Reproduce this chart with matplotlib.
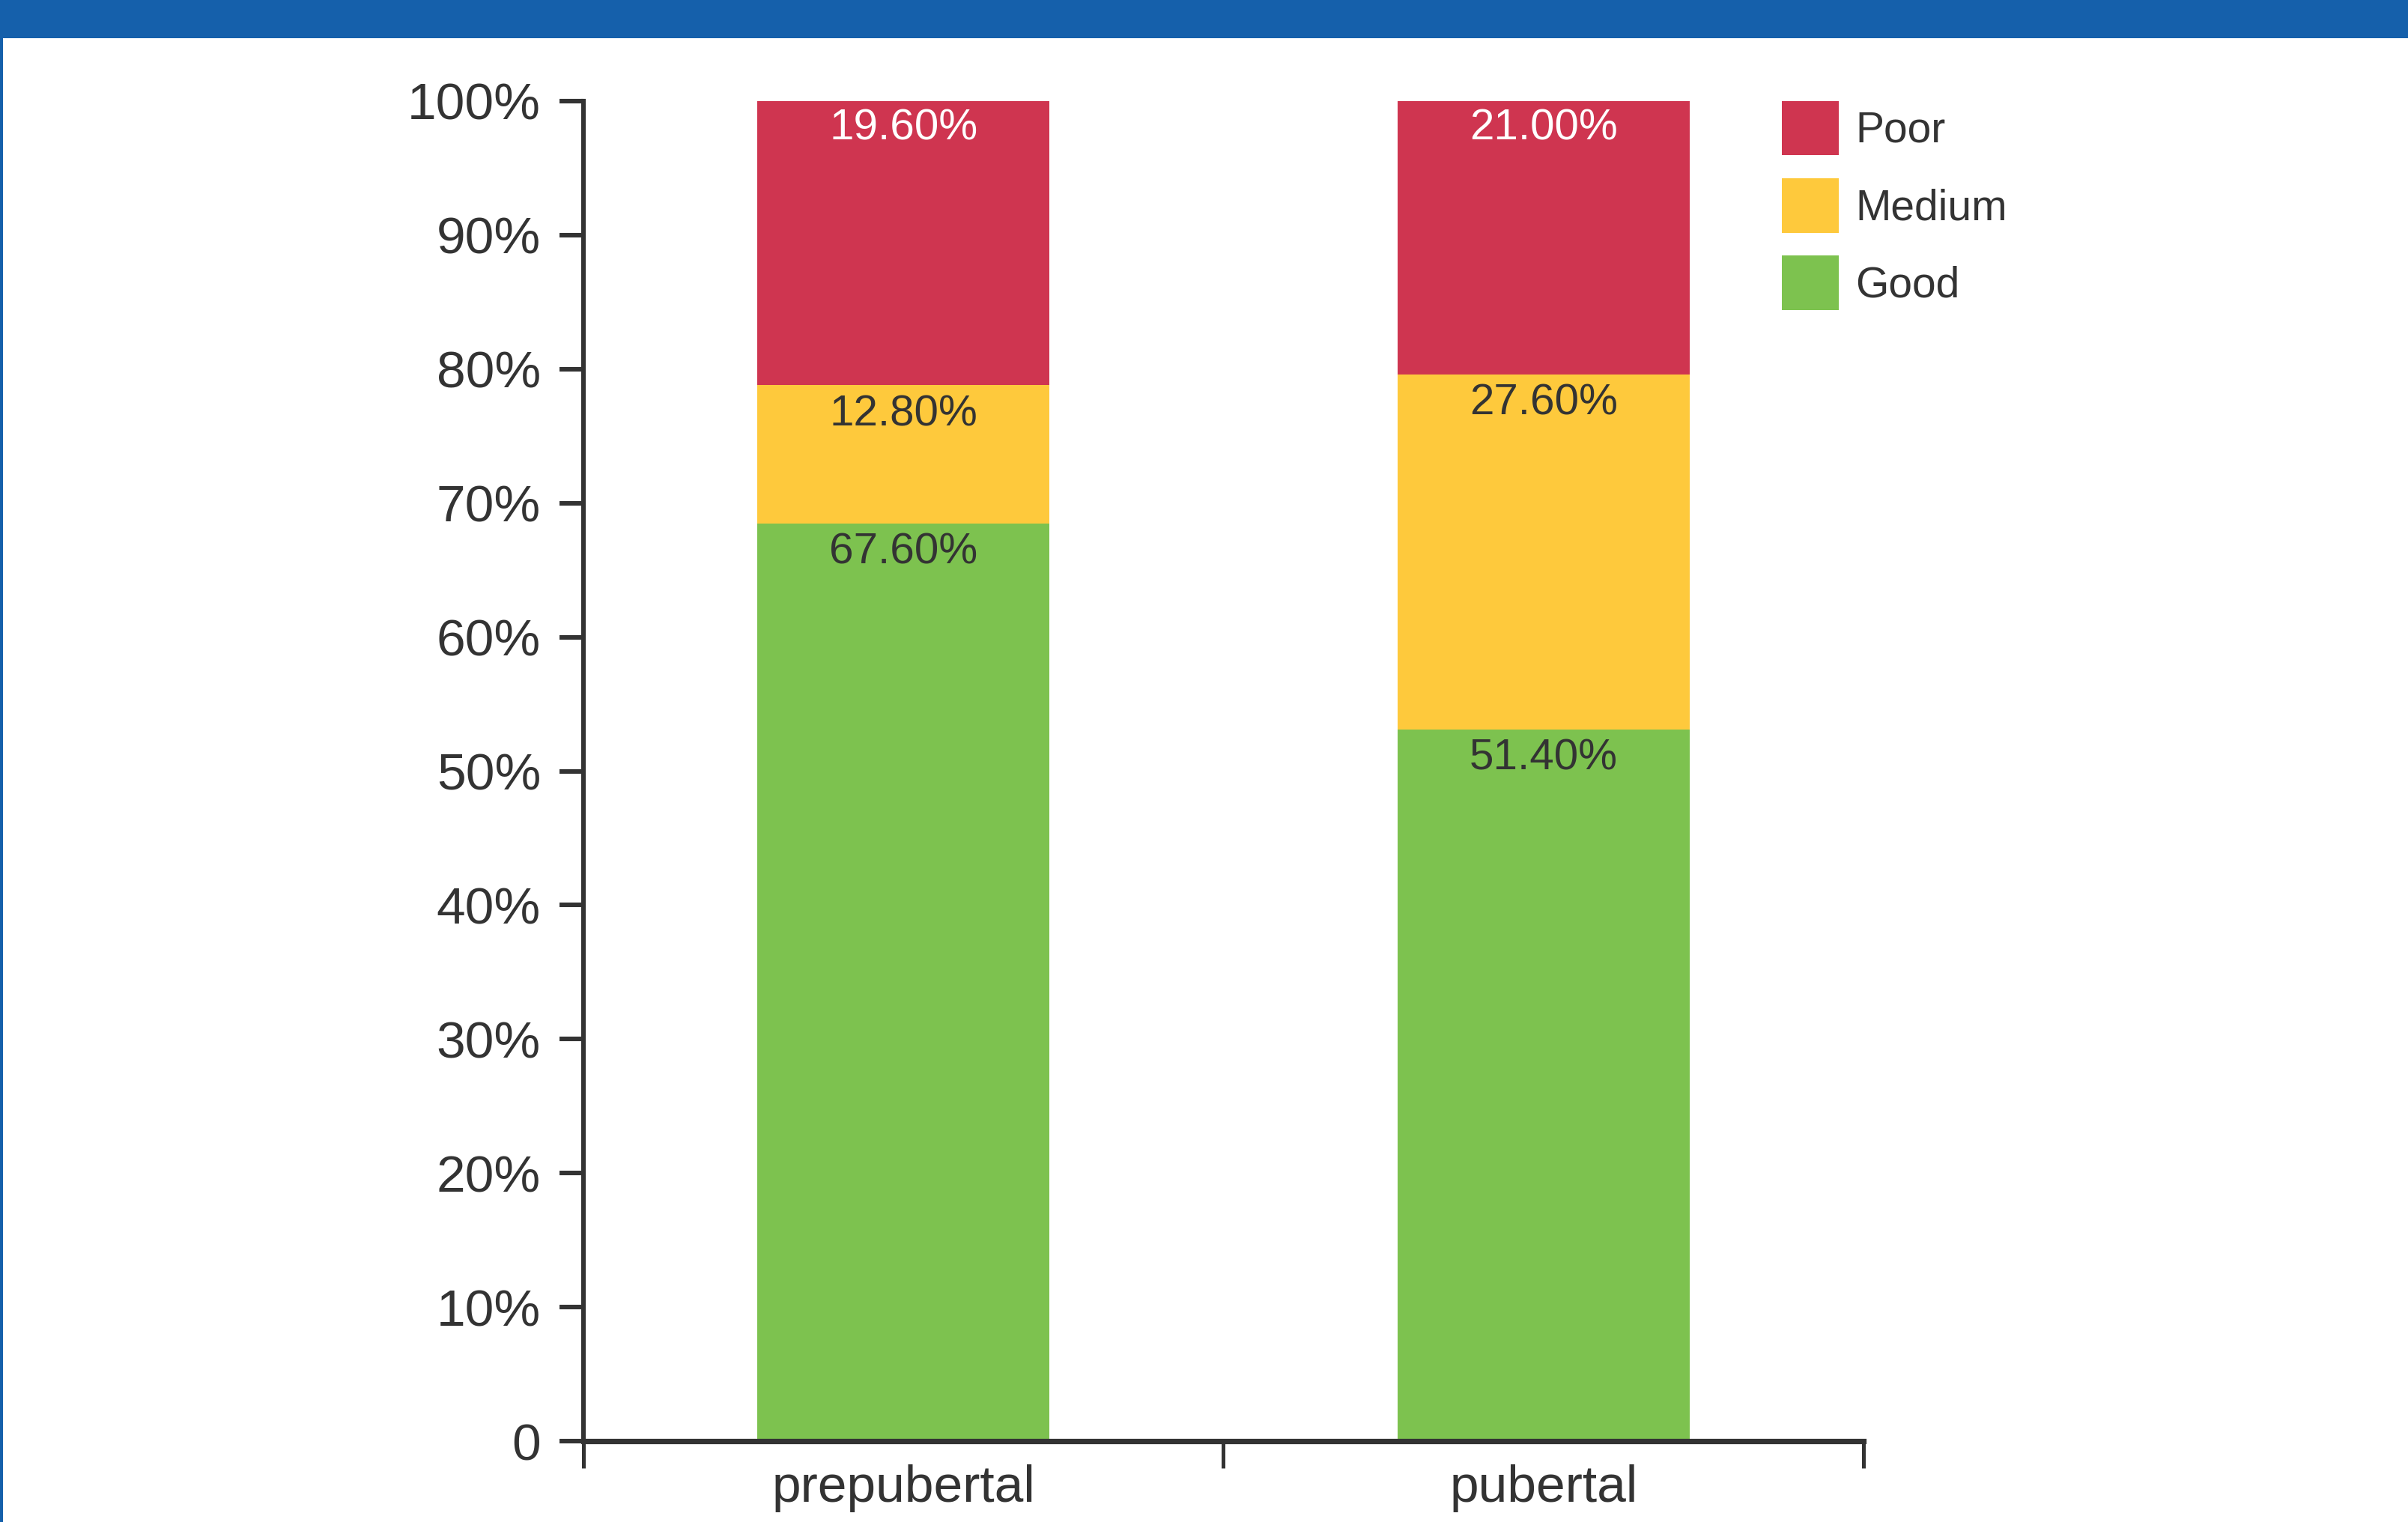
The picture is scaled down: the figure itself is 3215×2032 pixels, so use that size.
#!/usr/bin/env python3
"""
Oral hygiene grade by pubertal stage - stacked percentage bars
"""

import matplotlib
matplotlib.use("Agg")
import matplotlib.pyplot as plt
from matplotlib.patches import Rectangle, Patch

# bar heights as drawn (percent of group)
groups = ["prepubertal", "pubertal"]
good = [68.5, 53.1]
medium = [10.3, 26.5]
poor = [21.2, 20.4]

# numbers printed on the segments
good_text = [67.6, 51.4]
medium_text = [12.8, 27.6]
poor_text = [19.6, 21.0]

series_names = ["Poor", "Medium", "Good"]
y_ticks = [0, 10, 20, 30, 40, 50, 60, 70, 80, 90, 100]
y_tick_labels = ["0", "10%", "20%", "30%", "40%", "50%", "60%", "70%", "80%", "90%", "100%"]

COLORS = {"Good": "#7DC24F", "Medium": "#FEC93C", "Poor": "#CF3550"}
TEXT = "#333333"
BLUE = "#1560AB"

plt.rcParams['font.family'] = ['Liberation Sans', 'DejaVu Sans']


def plot_chart():
    fig = plt.figure(figsize=(16.08, 10.16), dpi=200)
    fig.patch.set_facecolor("white")

    # page frame: blue header band and thin left rule
    fig.add_artist(Rectangle((0, 1 - 51 / 2032), 1, 51 / 2032, transform=fig.transFigure,
                             facecolor=BLUE, edgecolor="none"))
    fig.add_artist(Rectangle((0, 0), 4 / 3216, 1, transform=fig.transFigure,
                             facecolor=BLUE, edgecolor="none"))

    ax = fig.add_axes([779 / 3216, 1 - 1924 / 2032, (2488 - 779) / 3216, (1924 - 135) / 2032])

    x = list(range(len(groups)))
    width = 0.456
    ax.bar(x, good, width, color=COLORS["Good"], linewidth=0)
    ax.bar(x, medium, width, bottom=good, color=COLORS["Medium"], linewidth=0)
    tops_mid = [g + m for g, m in zip(good, medium)]
    ax.bar(x, poor, width, bottom=tops_mid, color=COLORS["Poor"], linewidth=0)

    # segment labels sit just under each segment's top edge
    for i in x:
        seg = [(good[i], good_text[i], TEXT, -14),
               (tops_mid[i], medium_text[i], TEXT, -14),
               (tops_mid[i] + poor[i], poor_text[i], "white", -13)]
        for top, val, col, off in seg:
            ax.annotate(f"{val:.2f}%", (i, top), xytext=(0, off), textcoords="offset points",
                        ha="center", va="center", fontsize=21, color=col)

    ax.set_xlim(-0.5, 1.5)
    ax.set_ylim(0, 100)

    ax.set_yticks(y_ticks)
    ax.set_yticklabels(y_tick_labels)
    ax.tick_params(axis="y", length=11.5, width=2.2, color=TEXT, labelsize=25,
                   labelcolor=TEXT, pad=9)

    ax.set_xticks(x)
    ax.set_xticklabels(groups)
    ax.tick_params(axis="x", which="major", length=0, labelsize=25, labelcolor=TEXT, pad=11)
    ax.set_xticks([-0.5, 0.5, 1.5], minor=True)
    ax.tick_params(axis="x", which="minor", length=13, width=1.8, color=TEXT)

    for side in ["top", "right"]:
        ax.spines[side].set_visible(False)
    ax.spines["left"].set_linewidth(2.2)
    ax.spines["left"].set_color(TEXT)
    ax.spines["bottom"].set_linewidth(2.6)
    ax.spines["bottom"].set_color(TEXT)

    handles = [Patch(facecolor=COLORS[n], edgecolor="none") for n in series_names]
    leg = fig.legend(handles, series_names, loc="upper left",
                     bbox_to_anchor=(2379 / 3216, 1 - 135 / 2032),
                     frameon=False, fontsize=20.5, borderpad=0, borderaxespad=0,
                     handlelength=1.33, handleheight=1.58, handletextpad=0.4,
                     labelspacing=0.54)
    for t in leg.get_texts():
        t.set_color(TEXT)

    fig.savefig("out.png", dpi=200, facecolor="white")


def main():
    plot_chart()


if __name__ == "__main__":
    main()
